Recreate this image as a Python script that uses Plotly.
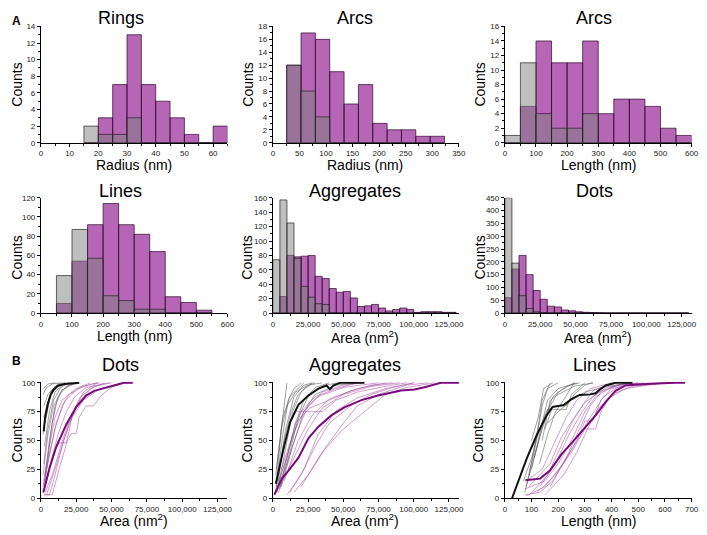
import plotly.graph_objects as go

W, H = 707, 535
OFF = 8  # default page margin of the html body

# ---------------- Histogram data (panel A) ----------------
rings_left = [15, 20, 25, 30, 35, 40, 45, 50, 55, 60]
rings_purple = [0, 3, 7, 13, 7, 5, 3, 1, 0, 2]
rings_gray = [2, 1, 1, 3, 0, 0, 0, 0, 0, 0]
rings_w = 5

arcsr_left = [26, 53, 80, 107, 134, 161, 188, 215, 242, 269, 296]
arcsr_purple = [12, 17, 16, 11, 6, 9, 3, 2, 2, 1, 1]
arcsr_gray = [12, 8, 4, 0, 0, 0, 0, 0, 0, 0, 0]
arcsr_w = 27

arcsl_left = [0, 50, 100, 150, 200, 250, 300, 350, 400, 450, 500, 550]
arcsl_purple = [0, 5, 14, 11, 11, 14, 4, 6, 6, 5, 2, 1]
arcsl_gray = [1, 11, 4, 2, 2, 4, 0, 0, 0, 0, 0, 0]
arcsl_w = 50

lines_left = [50, 100, 150, 200, 250, 300, 350, 400, 450, 500]
lines_purple = [10, 54, 92, 114, 92, 82, 64, 17, 11, 3]
lines_gray = [39, 87, 57, 18, 13, 4, 4, 0, 0, 0]
lines_w = 50

agg_left = [0, 5000, 10000, 15000, 20000, 25000, 30000, 35000, 40000, 45000,
            50000, 55000, 60000, 65000, 70000, 75000, 80000, 85000, 90000,
            95000, 100000, 105000, 110000, 115000, 120000, 125000]
agg_purple = [0, 23, 80, 78, 79, 80, 51, 48, 34, 29, 30, 21, 9, 10, 12, 7, 3,
              5, 7, 5, 1, 2, 2, 2, 1, 1]
agg_gray = [74, 157, 125, 76, 37, 22, 13, 12, 0, 0, 0, 0, 0, 0, 0, 0, 0, 0,
            0, 0, 0, 0, 0, 0, 0, 0]
agg_w = 5000

dots_left = [0, 5000, 10000, 15000, 20000, 25000, 30000, 35000, 40000, 45000,
             50000, 55000, 60000, 65000, 70000, 75000, 80000, 85000, 90000,
             95000, 100000, 105000, 110000, 115000, 120000, 125000]
dots_purple = [60, 172, 225, 150, 88, 54, 27, 24, 12, 9, 5, 3, 2, 1, 0, 0, 0,
               0, 0, 0, 0, 0, 0, 0, 0, 0]
dots_gray = [450, 195, 68, 18, 5, 2, 0, 0, 0, 0, 0, 0, 0, 0, 0, 0, 0, 0, 0,
             0, 0, 0, 0, 0, 0, 0]
dots_w = 5000

# ---------------- Cumulative curves (panel B) ----------------
# Dots
cdots_black_x = [2000, 3000, 5000, 7000, 9000, 12000, 17000, 27000]
cdots_black_y = [58, 70, 82, 90, 94, 97.5, 99, 100]
cdots_purple_x = [1700, 6300, 11000, 18000, 25000, 32000, 37700, 47000, 53000, 58700, 65000]
cdots_purple_y = [5, 27, 45, 64, 79, 89, 93, 96, 98, 100, 100]
cdots_gray_thin = [
    ([1500, 5000, 10000], [95, 99, 100]),
    ([1500, 4000, 8000, 14000], [90, 96, 99, 100]),
    ([2000, 5000, 10000, 18000], [80, 90, 97, 100]),
    ([2000, 6000, 12000, 20000], [70, 88, 97, 100]),
    ([2500, 6000, 10000, 16000, 22000], [45, 75, 92, 99, 100]),
    ([2000, 5000, 9000, 14000, 20000], [30, 60, 85, 96, 100]),
    ([3000, 6000, 10000, 15000, 25000], [20, 50, 80, 94, 100]),
    ([2500, 5000, 8000, 12000, 18000, 24000], [10, 35, 65, 88, 97, 100]),
    ([1500, 4000, 8000, 15000], [55, 80, 94, 100]),
    ([3000, 7000, 12000, 17000], [65, 92, 99, 100]),
]
cdots_purple_thin = [
    ([2000, 6000, 10000, 15000, 20000, 26000, 35000, 45000], [3, 3, 20, 45, 65, 82, 95, 100]),
    ([2000, 8000, 14000, 19000, 21500, 25000, 27000, 32000, 37000, 43500, 50000, 58700],
     [3, 3, 30, 51, 56, 56, 70, 80, 80, 90, 96, 100]),
    ([1500, 5000, 10000, 15000, 20000, 30000, 40000], [10, 30, 60, 80, 90, 97, 100]),
    ([2000, 6000, 10000, 15000, 25000, 35000], [15, 45, 70, 85, 95, 100]),
    ([2500, 7000, 12000, 18000, 24000, 32000, 48000], [8, 30, 55, 75, 88, 96, 100]),
    ([1500, 5000, 9000, 14000, 20000, 28000], [20, 55, 80, 92, 98, 100]),
    ([3000, 8000, 14000, 20000, 28000, 38000, 50000], [5, 20, 45, 68, 88, 97, 100]),
    ([2000, 6000, 11000, 17000, 26000, 36000, 42000], [12, 38, 66, 84, 95, 99, 100]),
    ([4000, 10000, 16000, 22000, 30000, 42000, 55000, 62000], [3, 25, 50, 70, 85, 95, 99, 100]),
    ([3000, 9000, 13000, 18000, 22000, 30000, 40000], [10, 40, 48, 48, 70, 92, 100]),
]

# Aggregates
cagg_black_x = [2100, 7600, 12300, 18100, 25200, 32300, 38100, 40500, 42800, 47600, 65000]
cagg_black_y = [12.5, 43, 66, 81, 89, 95, 97.7, 94.5, 97.7, 100, 100]
cagg_purple_x = [1000, 6400, 11100, 18100, 25200, 32300, 41700, 51100, 62900, 74600,
                 91100, 100500, 107600, 119300, 133000]
cagg_purple_y = [3, 17, 24, 35, 52, 62, 72, 79, 85, 89, 93.4, 94.3, 96.2, 100, 100]
cagg_gray_thin = [
    ([2000, 6000, 10000], [5, 60, 100]),
    ([2500, 7000, 11000, 15000, 20000], [10, 55, 85, 95, 100]),
    ([3000, 9000, 14000, 20000, 28000], [5, 45, 75, 92, 100]),
    ([2000, 6000, 10000, 16000, 25000, 35000], [20, 60, 80, 92, 98, 100]),
    ([4000, 10000, 16000, 22000, 30000, 40000], [5, 35, 65, 85, 96, 100]),
    ([3000, 8000, 13000, 18000, 24000, 30000], [15, 50, 75, 90, 97, 100]),
    ([5000, 12000, 18000, 25000, 35000, 45000], [8, 40, 70, 88, 97, 100]),
    ([2500, 7000, 12000, 18000, 22000], [25, 70, 88, 95, 100]),
    ([6000, 14000, 22000, 30000, 45000, 60000], [10, 45, 75, 90, 98, 100]),
    ([3500, 9000, 15000, 22000, 28000], [12, 60, 88, 98, 100]),
]
cagg_purple_thin = [
    ([2000, 10000, 18000, 25000, 35000, 50000, 65000], [5, 30, 60, 80, 92, 98, 100]),
    ([5000, 15000, 25000, 35000, 50000, 70000, 90000], [10, 35, 60, 78, 90, 97, 100]),
    ([10000, 20000, 30000, 40000, 55000, 70000, 85000, 100000], [3, 20, 45, 65, 80, 90, 96, 100]),
    ([15000, 25000, 35000, 50000, 65000, 80000, 95000, 115000], [5, 20, 40, 60, 75, 90, 96, 100]),
    ([3000, 12000, 20000, 30000, 45000, 60000], [8, 45, 75, 88, 95, 100]),
    ([8000, 18000, 28000, 40000, 60000, 80000], [15, 50, 72, 86, 95, 100]),
    ([20000, 30000, 38000, 50000, 60000, 75000, 95000, 110000], [10, 30, 45, 65, 80, 90, 98, 100]),
    ([6000, 14000, 22000, 32000, 50000, 75000], [25, 55, 75, 88, 96, 100]),
    ([12000, 22000, 32000, 45000, 60000, 80000, 100000], [5, 25, 55, 76, 87, 95, 100]),
    ([4000, 10000, 16000, 26000, 40000, 55000, 70000, 85000], [15, 35, 65, 78, 85, 93, 98, 100]),
    ([10000, 15000, 35000, 45000, 60000, 80000, 95000], [60, 75, 75, 85, 92, 97, 100]),
]

# Lines
clines_black_x = [27, 52, 83, 120, 157, 178, 200, 220, 250, 280, 320, 340, 355, 378, 415, 478]
clines_black_y = [0, 15, 35, 55, 72, 79, 80, 80.7, 86, 89.5, 90, 91, 94, 97.7, 100, 100]
clines_purple_x = [77, 132, 169, 212, 255, 298, 341, 378, 415, 452, 526, 637, 675]
clines_purple_y = [15.5, 17, 24, 38, 49, 61, 72, 83.5, 93, 97.7, 99, 100, 100]
clines_gray_thin = [
    ([75, 110, 140, 160, 200], [5, 40, 80, 95, 100]),
    ([90, 120, 140, 170], [20, 55, 85, 100]),
    ([100, 125, 145, 180], [50, 70, 95, 100]),
    ([80, 120, 150, 180, 230, 280], [10, 45, 70, 88, 97, 100]),
    ([130, 160, 190, 220, 260], [30, 55, 75, 85, 100]),
    ([70, 100, 130, 160, 230, 250, 300], [15, 35, 60, 77, 77, 90, 100]),
    ([150, 180, 230, 260, 300, 330], [60, 80, 80, 90, 98, 100]),
    ([110, 140, 170, 200, 260], [35, 60, 80, 92, 100]),
    ([140, 170, 200, 260, 330], [50, 85, 90, 97, 100]),
    ([100, 130, 160, 200, 270], [25, 55, 85, 95, 100]),
    ([160, 200, 250, 300, 380, 480], [65, 75, 85, 92, 97, 100]),
]
clines_purple_thin = [
    ([75, 130, 180, 230, 280, 320, 360, 420, 500], [3, 5, 15, 35, 60, 80, 92, 98, 100]),
    ([75, 150, 200, 250, 300, 340, 400, 460], [8, 15, 30, 50, 75, 88, 96, 100]),
    ([80, 150, 220, 270, 320, 370, 430, 520], [2, 10, 30, 50, 70, 88, 97, 100]),
    ([100, 160, 210, 250, 290, 330, 380, 420], [5, 20, 45, 65, 80, 93, 98, 100]),
    ([130, 190, 240, 290, 330, 380, 470], [10, 30, 55, 75, 88, 96, 100]),
    ([80, 140, 190, 230, 270, 320, 400], [15, 25, 50, 70, 85, 95, 100]),
    ([150, 220, 270, 310, 350, 400, 450, 600], [3, 20, 40, 60, 78, 88, 95, 100]),
    ([120, 180, 250, 300, 340, 360, 400, 480, 600], [5, 18, 40, 60, 60, 75, 90, 97, 100]),
    ([170, 230, 270, 300, 330, 360, 400, 500], [10, 35, 50, 67, 67, 85, 95, 100]),
    ([90, 170, 210, 260, 300, 360, 440, 640], [10, 30, 52, 70, 83, 93, 99, 100]),
]

# ---------------- Styling ----------------
PURPLE = "rgba(135,10,135,0.62)"
GRAY = "rgba(128,128,128,0.5)"
FONT = "Liberation Sans, Arial, sans-serif"
FW, FH = W - OFF, H - OFF

fig = go.Figure()

def px_x(p):
    return (p - OFF) / FW

def px_y(p):
    return 1 - (p - OFF) / FH

col_dom = [[39.3, 228.3], [274.3, 462.7], [509.3, 698.5]]
row_dom = [[141.0, 22.7], [314.3, 197.0], [502.7, 384.1]]

panels = [
    (0, 0, [0, 65], 10, 2, [0, 14], 5, 1, False),
    (0, 1, [0, 350], 50, 2, [0, 18], 25, 1, False),
    (0, 2, [0, 600], 100, 2, [0, 16], 50, 1, False),
    (1, 0, [0, 600], 100, 20, [0, 120], 50, 10, False),
    (1, 1, [0, 132000], 25000, 20, [0, 160], 12500, 10, True),
    (1, 2, [0, 132000], 25000, 50, [0, 450], 12500, 25, True),
    (2, 0, [0, 132000], 25000, 25, [0, 101], 12500, 12.5, True),
    (2, 1, [0, 132000], 25000, 25, [0, 101], 12500, 12.5, True),
    (2, 2, [0, 700], 100, 25, [0, 101], 50, 12.5, False),
]

layout = dict(
    width=FW, height=FH, autosize=False,
    margin=dict(l=0, r=0, t=0, b=0),
    paper_bgcolor="white", plot_bgcolor="white",
    showlegend=False, barmode="overlay",
    font=dict(family=FONT, color="black"),
)

for i, (r, c, xr, xd, yd, yr, xm, ym, comma) in enumerate(panels):
    n = i + 1
    xa = "xaxis" if n == 1 else f"xaxis{n}"
    ya = "yaxis" if n == 1 else f"yaxis{n}"
    layout[xa] = dict(
        domain=[px_x(col_dom[c][0]), px_x(col_dom[c][1])],
        anchor="y" if n == 1 else f"y{n}",
        range=xr, dtick=xd, tick0=0, showline=True, linecolor="black", linewidth=1,
        ticks="outside", ticklen=3, tickwidth=1, tickcolor="black",
        showgrid=False, zeroline=False,
        tickfont=dict(size=8, family=FONT, color="#222"),
        tickformat=",d" if comma else "d",
        minor=dict(ticks="outside", ticklen=2, dtick=xm, tick0=0, tickcolor="black", showgrid=False),
    )
    layout[ya] = dict(
        domain=[px_y(row_dom[r][0]), px_y(row_dom[r][1])],
        anchor="x" if n == 1 else f"x{n}",
        range=yr, dtick=yd, tick0=0, showline=True, linecolor="black", linewidth=1,
        ticks="outside", ticklen=3, tickwidth=1, tickcolor="black",
        showgrid=False, zeroline=False,
        tickfont=dict(size=8, family=FONT, color="#222"),
        minor=dict(ticks="outside", ticklen=2, dtick=ym, tick0=0, tickcolor="black", showgrid=False),
    )

def axes(n):
    return ("x" if n == 1 else f"x{n}", "y" if n == 1 else f"y{n}")

def hist(n, left, w, purple, gray):
    xa, ya = axes(n)
    centers = [l + w / 2 for l in left]
    fig.add_trace(go.Bar(x=centers, y=purple, width=w, xaxis=xa, yaxis=ya,
                         marker=dict(color=PURPLE, line=dict(color="rgba(40,0,40,0.85)", width=0.8))))
    fig.add_trace(go.Bar(x=centers, y=gray, width=w, xaxis=xa, yaxis=ya,
                         marker=dict(color=GRAY, line=dict(color="rgba(30,30,30,0.85)", width=0.8))))

hist(1, rings_left, rings_w, rings_purple, rings_gray)
hist(2, arcsr_left, arcsr_w, arcsr_purple, arcsr_gray)
hist(3, arcsl_left, arcsl_w, arcsl_purple, arcsl_gray)
hist(4, lines_left, lines_w, lines_purple, lines_gray)
hist(5, agg_left, agg_w, agg_purple, agg_gray)
hist(6, dots_left, dots_w, dots_purple, dots_gray)

def cum(n, gray_thin, purple_thin, bx, by, pxs, pys):
    xa, ya = axes(n)
    for xs, ys in purple_thin:
        fig.add_trace(go.Scatter(x=xs, y=ys, mode="lines", xaxis=xa, yaxis=ya,
                                 line=dict(color="rgba(165,70,165,0.65)", width=0.8)))
    for xs, ys in gray_thin:
        fig.add_trace(go.Scatter(x=xs, y=ys, mode="lines", xaxis=xa, yaxis=ya,
                                 line=dict(color="rgba(90,90,90,0.7)", width=0.8)))
    fig.add_trace(go.Scatter(x=pxs, y=pys, mode="lines", xaxis=xa, yaxis=ya,
                             line=dict(color="#7a0a7a", width=2)))
    fig.add_trace(go.Scatter(x=bx, y=by, mode="lines", xaxis=xa, yaxis=ya,
                             line=dict(color="#111111", width=2)))

cum(7, cdots_gray_thin, cdots_purple_thin, cdots_black_x, cdots_black_y, cdots_purple_x, cdots_purple_y)
cum(8, cagg_gray_thin, cagg_purple_thin, cagg_black_x, cagg_black_y, cagg_purple_x, cagg_purple_y)
cum(9, clines_gray_thin, clines_purple_thin, clines_black_x, clines_black_y, clines_purple_x, clines_purple_y)

# ---------------- Text ----------------
annotations = []

def ann(text, x, y, size, angle=0, bold=False, xanchor="center", yanchor="middle"):
    annotations.append(dict(
        text=f"<b>{text}</b>" if bold else text,
        x=px_x(x), y=px_y(y), xref="paper", yref="paper",
        xanchor=xanchor, yanchor=yanchor, showarrow=False,
        textangle=angle, font=dict(size=size, family=FONT, color="black"),
    ))

titles = [("Rings", 120, 14), ("Arcs", 357, 14), ("Arcs", 600, 14),
          ("Lines", 120, 190), ("Aggregates", 357, 190), ("Dots", 600, 190),
          ("Dots", 120, 367), ("Aggregates", 357, 367), ("Lines", 600, 367)]
for t, x, y in titles:
    ann(t, x, y, 18)

area = "Area (nm<sup>2</sup>)"
xtitles = [("Radius (nm)", 134, 164), ("Radius (nm)", 368, 164), ("Length (nm)", 604, 164),
           ("Length (nm)", 134, 338), (area, 368, 339), (area, 604, 339),
           (area, 134, 525), (area, 368, 525), ("Length (nm)", 604, 526)]
for t, x, y in xtitles:
    ann(t, x, y, 14)

ytitles = [(15, 82), (249, 82), (484, 82),
           (15, 258), (248, 258), (484, 258),
           (15, 444), (248, 444), (482, 444)]
for x, y in ytitles:
    ann("Counts", x, y, 14, angle=-90)

ann("A", OFF, OFF, 12, bold=True, xanchor="left", yanchor="top")
ann("B", OFF, 363, 12, bold=True, xanchor="left")

layout["annotations"] = annotations
fig.update_layout(**layout)

fig.write_html("out.html")
